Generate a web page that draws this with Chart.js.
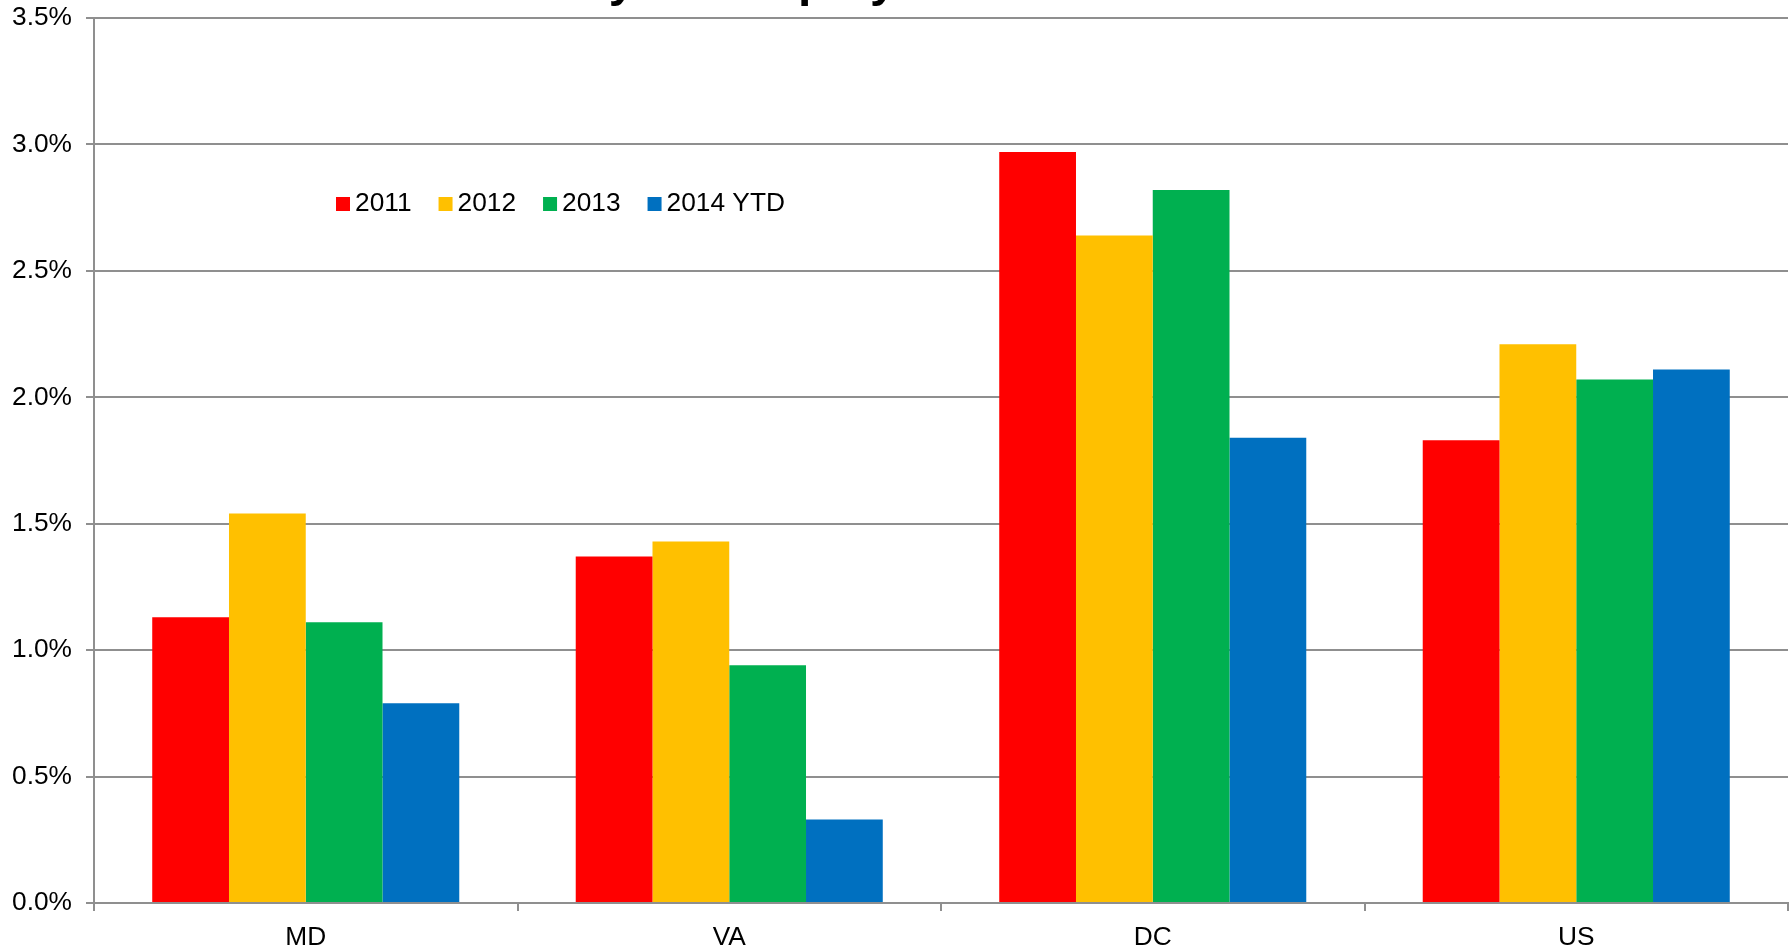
<!DOCTYPE html>
<html>
<head>
<meta charset="utf-8">
<script src="https://cdn.jsdelivr.net/npm/chart.js@4.4.1/dist/chart.umd.min.js"></script>
<style>
html, body { margin: 0; padding: 0; background: #fff; }
#grafica-container { width: 1792px; height: 948px; }
</style>
</head>
<body>
<div id="grafica-container"><canvas id="grafica" width="1792" height="948"></canvas></div>
<script>
// DATOS
const categorias = ["MD", "VA", "DC", "US"];
const serie2011 = [1.13, 1.37, 2.97, 1.83];
const serie2012 = [1.54, 1.43, 2.64, 2.21];
const serie2013 = [1.11, 0.94, 2.82, 2.07];
const serie2014 = [0.79, 0.33, 1.84, 2.11];
const etiquetas = ["2011", "2012", "2013", "2014 YTD"];
const colores = ["#ff0000", "#ffc000", "#00b050", "#0070c0"];
const tituloTexto = "Payroll Employment Growth";

const fuente = "Arial, 'Liberation Sans', sans-serif";
const gris = "#8f8f8f";
const tamLetra = 26.3;

// Titulo (cortado arriba, solo se ven los descendentes)
const tituloPlugin = {
    id: "tituloCortado",
    afterDraw(chart) {
        const ctx = chart.ctx;
        ctx.save();
        ctx.font = "bold 48px " + fuente;
        ctx.fillStyle = "#000";
        ctx.textAlign = "left";
        ctx.textBaseline = "alphabetic";
        ctx.fillText(tituloTexto, 550, -4);
        ctx.restore();
    }
};

// Leyenda dentro del area del grafico
const leyendaPlugin = {
    id: "leyendaInterna",
    afterDraw(chart) {
        const ctx = chart.ctx;
        ctx.save();
        ctx.font = tamLetra + "px " + fuente;
        ctx.textBaseline = "middle";
        let x = 336;
        const y = 204;
        chart.data.datasets.forEach(ds => {
            ctx.fillStyle = ds.backgroundColor;
            ctx.fillRect(x, y - 7, 14, 14);
            ctx.fillStyle = "#000";
            ctx.fillText(ds.label, x + 19, y);
            x += 19 + ctx.measureText(ds.label).width + 27;
        });
        ctx.restore();
    }
};

const series = [serie2011, serie2012, serie2013, serie2014];

new Chart(document.getElementById("grafica").getContext("2d"), {
    type: "bar",
    data: {
        labels: categorias,
        datasets: series.map((s, i) => ({
            label: etiquetas[i],
            data: s,
            backgroundColor: colores[i],
            borderWidth: 0,
            categoryPercentage: 0.725,
            barPercentage: 1.0
        }))
    },
    options: {
        responsive: false,
        animation: false,
        layout: { padding: { top: 18, right: 4, left: 0, bottom: 0 } },
        plugins: {
            legend: { display: false },
            tooltip: { enabled: false }
        },
        scales: {
            y: {
                min: 0,
                max: 3.5,
                afterFit: s => { s.width = 94; s.paddingTop = 0; s.paddingBottom = 0; },
                ticks: {
                    stepSize: 0.5,
                    padding: 14,
                    color: "#000",
                    font: { family: fuente, size: tamLetra },
                    callback: v => v.toFixed(1) + "%"
                },
                grid: { color: gris, lineWidth: 2, tickLength: 8 },
                border: { color: gris, width: 2 }
            },
            x: {
                afterFit: s => { s.height = 45; },
                ticks: {
                    padding: 11,
                    color: "#000",
                    font: { family: fuente, size: tamLetra }
                },
                grid: { drawOnChartArea: false, drawTicks: true, tickLength: 8, color: gris, lineWidth: 2, offset: true },
                border: { color: gris, width: 2 }
            }
        }
    },
    plugins: [tituloPlugin, leyendaPlugin]
});
</script>
</body>
</html>
